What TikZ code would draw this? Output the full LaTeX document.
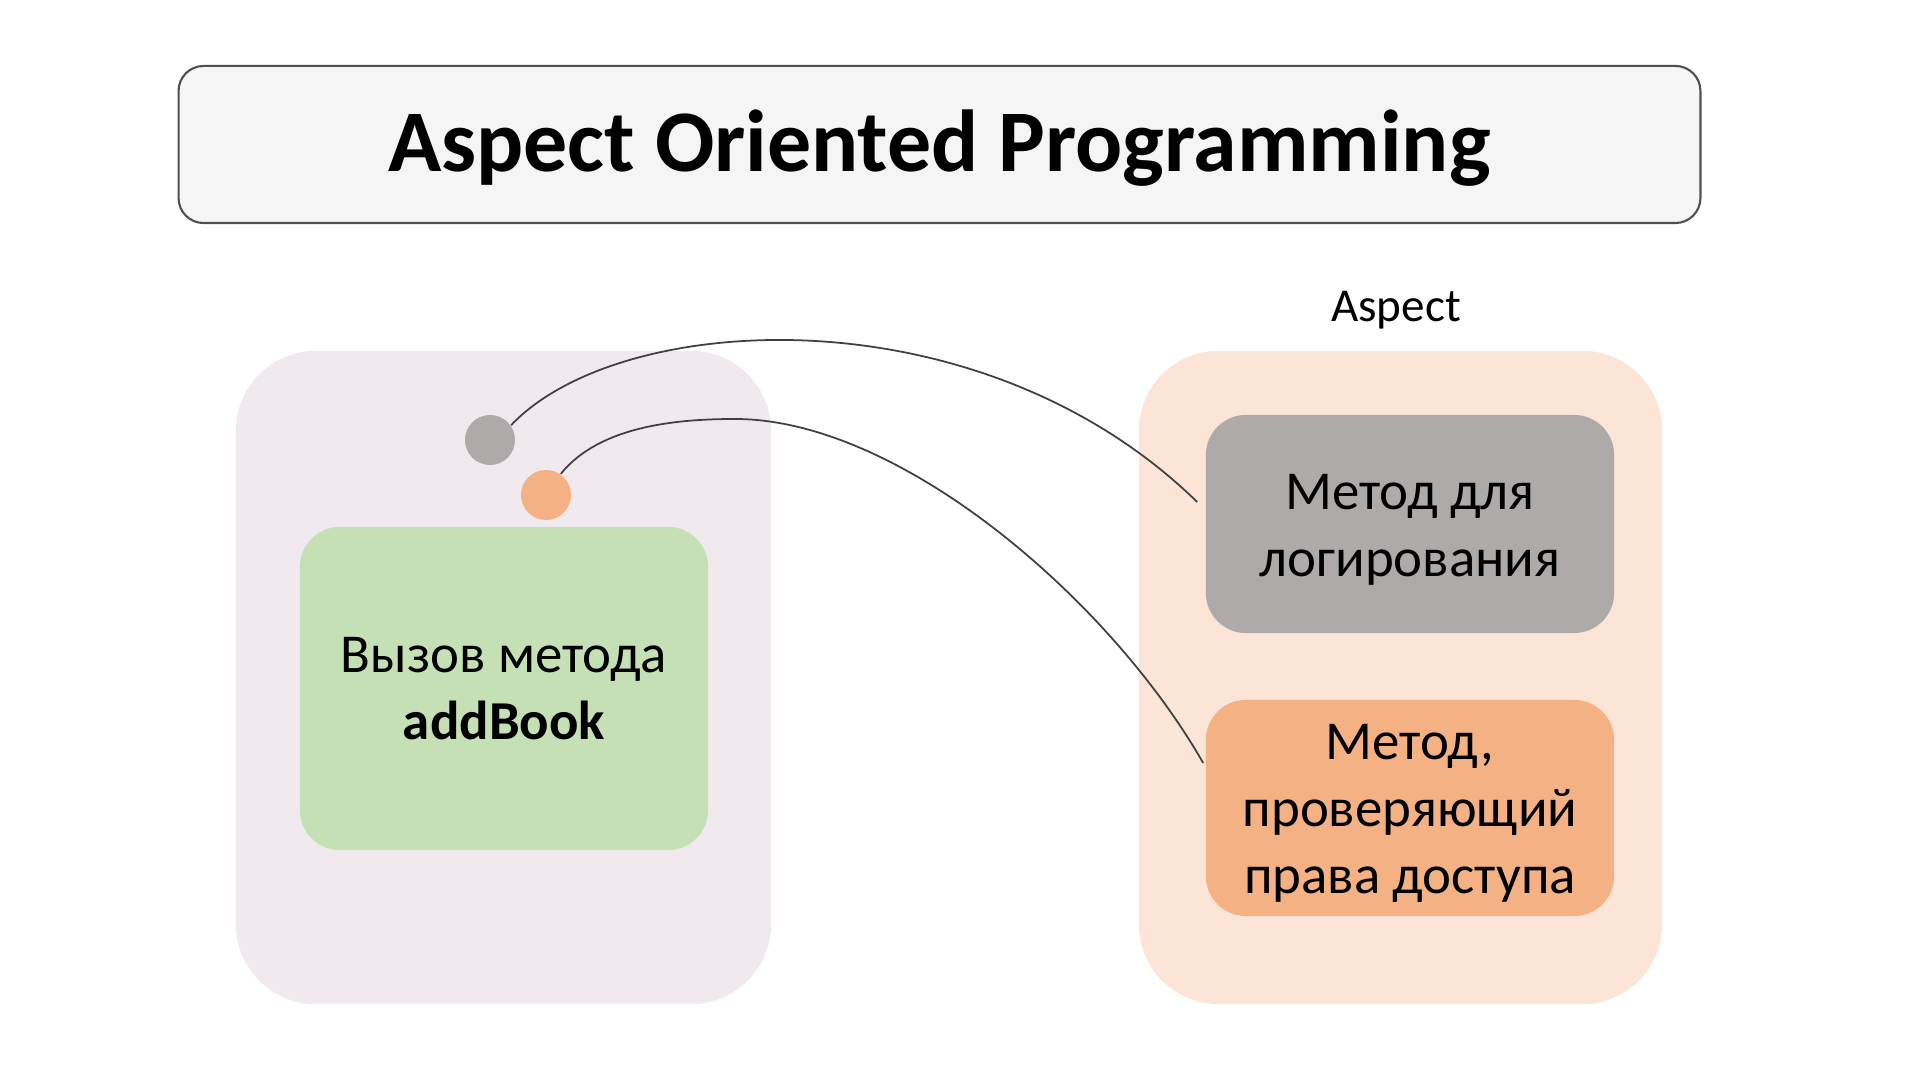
\documentclass[tikz,border=0pt]{standalone}
\usepackage{fontspec}
\setmainfont{Carlito}
\usetikzlibrary{calc}
\definecolor{titlefill}{HTML}{F5F5F5}
\definecolor{titleline}{HTML}{505050}
\definecolor{leftpanel}{HTML}{F0EAEE}
\definecolor{rightpanel}{HTML}{FCE4D6}
\definecolor{callgreen}{HTML}{C5E0B4}
\definecolor{loggray}{HTML}{AEAAAA}
\definecolor{secorange}{HTML}{F4B183}
\definecolor{wire}{HTML}{404040}
\tikzset{
  panel/.style={rounded corners=0.8cm, minimum width=#1, minimum height=6.53cm, inner sep=0pt},
  methodbox/.style={rounded corners=0.4cm, minimum width=4.08cm, inner sep=0pt, align=center,
    font=\fontsize{15.6}{19}\selectfont},
  joinpoint/.style={circle, minimum size=0.5cm, inner sep=0pt},
  wirestyle/.style={draw=wire, line width=0.5pt}
}
% centred lines, lowered slightly inside their box (box size unchanged)
\newcommand{\lowlines}[2]{\raisebox{-#1}[\height][\depth]{\begin{tabular}{@{}c@{}}#2\end{tabular}}}
\begin{document}
\begin{tikzpicture}[x=0.01cm, y=-0.01cm]
  \useasboundingbox[fill=white] (0,0) rectangle (1920,1080);

  % heading
  \node[draw=titleline, line width=0.6pt, fill=titlefill, rounded corners=0.25cm,
        minimum width=15.21cm, minimum height=1.57cm, inner sep=0pt,
        font=\fontsize{25}{30}\selectfont\bfseries] (title) at (939.5,144.5)
        {\lowlines{0.06cm}{Aspect Oriented Programming}};

  % background panels
  \node[panel=5.35cm, fill=leftpanel] (left) at (503.5,677.5) {};
  \node[panel=5.23cm, fill=rightpanel] (right) at (1400.5,677.5) {};
  \node[font=\fontsize{13.4}{16}\selectfont] (aspect) at (1396,310) {Aspect};

  % method call
  \node[methodbox, fill=callgreen, minimum height=3.23cm] (call) at (504,688.5)
        {Вызов метода\\\textbf{addBook}};

  % join points
  \node[joinpoint, fill=loggray] (gc) at (490,440) {};
  \node[joinpoint, fill=secorange] (oc) at (546,495) {};

  % aspect methods
  \node[methodbox, fill=loggray, minimum height=2.18cm] (logm) at (1410,524)
        {\lowlines{0.06cm}{Метод для\\логирования}};
  \node[methodbox, fill=secorange, minimum height=2.16cm] (secm) at (1410,808)
        {\lowlines{0.05cm}{Метод,\\проверяющий\\права доступа}};

  \coordinate (logend) at ($(logm.west)+(-8,-22)$);
  \coordinate (secend) at ($(secm.west)+(-2,-45)$);
  \coordinate (secpeak) at (735,419);

  % links
  \draw[wirestyle] (gc.35) .. controls (620,310) and (980,290) .. (logend);
  \draw[wirestyle] (oc.55) .. controls (600,425) and (680,419) .. (secpeak)
                           .. controls (900,419) and (1110,600) .. (secend);
\end{tikzpicture}
\end{document}
